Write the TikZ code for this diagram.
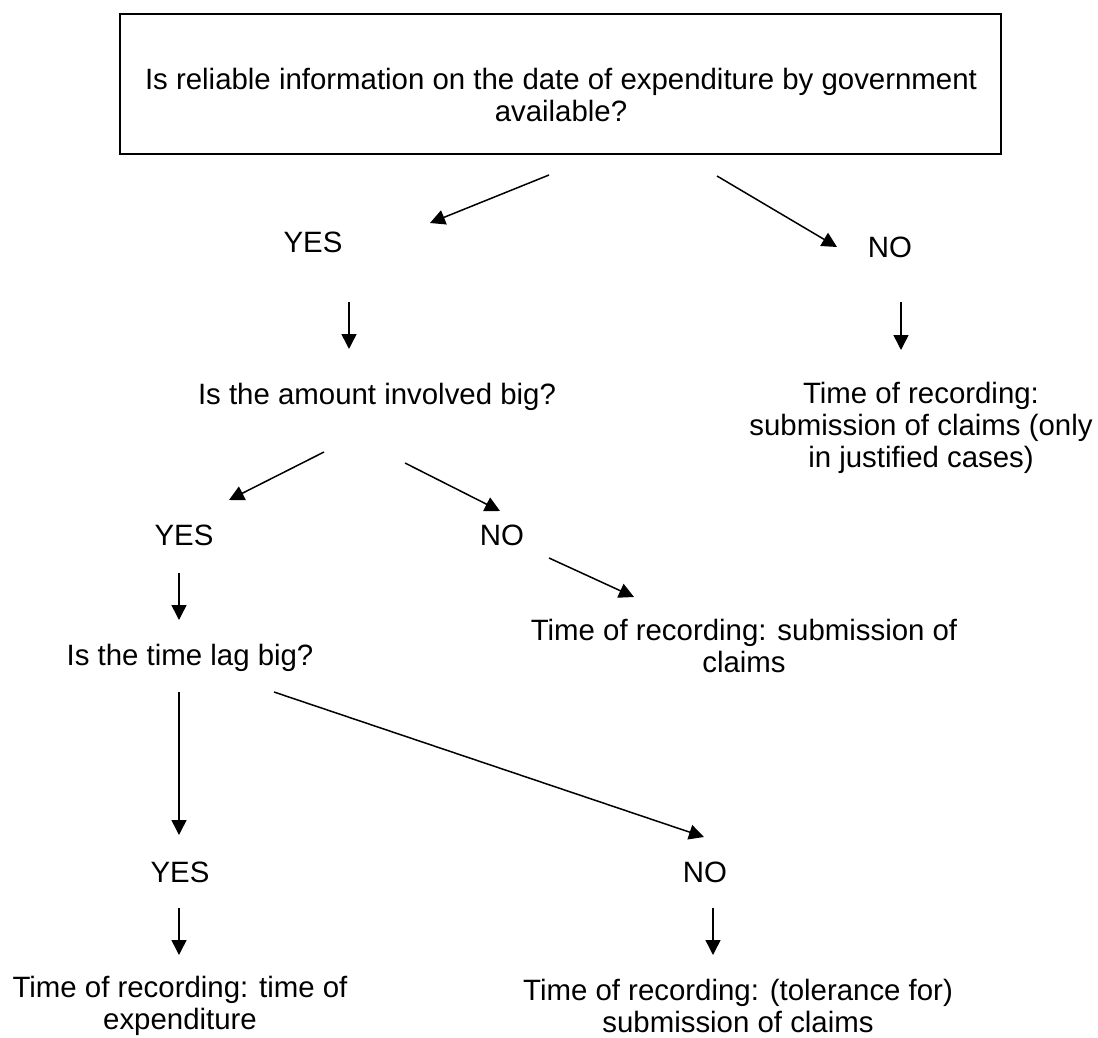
\documentclass[tikz,border=0pt]{standalone}
\usepackage{fontspec}
\setmainfont{Liberation Sans}
\usetikzlibrary{arrows.meta}

\begin{document}
\begin{tikzpicture}[x=0.5pt, y=-0.5pt]

  \tikzstyle{question} = [rectangle, minimum width=440.5pt, minimum height=70pt, draw=black, line width=1pt]
  \tikzstyle{answer} = [text centered, inner sep=0pt, font=\fontsize{14.7pt}{16pt}\selectfont]
  \tikzstyle{result} = [answer, align=center]
  \tikzstyle{arrow} = [line width=0.75pt, -{Triangle[length=7.5pt,width=7.5pt]}]

  \useasboundingbox (0,0) rectangle (1098,1038);

  \node (question) [question] at (560.5,84) {};
  \node (qtext) [result] at (561,95) {Is reliable information on the date of expenditure by government\\available?};

  \node (yes1)   [answer] at (313,242) {YES};
  \node (no1)    [answer] at (890,247) {NO};
  \node (amount) [answer] at (377,397) {Is the amount involved big?};
  \node (rec1)   [result] at (921,428) {Time of recording:\\submission of claims (only\\in justified cases)};

  \node (yes2)   [answer] at (184,535) {YES};
  \node (no2)    [answer] at (502,535) {NO};
  \node (claims) [result] at (744,646) {Time of recording: submission of\\claims};
  \node (lag)    [answer] at (190,658) {Is the time lag big?};

  \node (yes3)   [answer] at (180,872) {YES};
  \node (no3)    [answer] at (705,872) {NO};
  \node (rec3)   [result] at (180,1006) {Time of recording: time of\\expenditure};
  \node (rec4)   [result] at (738,1006) {Time of recording: (tolerance for)\\submission of claims};

  % arrow ends
  \coordinate (q-yes)      at (549,175);
  \coordinate (yes1-in)    at (430,223);
  \coordinate (q-no)       at (717,176);
  \coordinate (no1-in)     at (837,247);
  \coordinate (yes1-out)   at (349,302);
  \coordinate (amount-in)  at (349,349);
  \coordinate (no1-out)    at (901,302);
  \coordinate (rec1-in)    at (901,350);
  \coordinate (amount-yes) at (324,452);
  \coordinate (yes2-in)    at (229,500);
  \coordinate (amount-no)  at (405,463);
  \coordinate (no2-in)     at (500,511);
  \coordinate (no2-out)    at (549,558);
  \coordinate (claims-in)  at (634,597);
  \coordinate (yes2-out)   at (179,573);
  \coordinate (lag-in)     at (179,620);
  \coordinate (lag-yes)    at (179,692);
  \coordinate (yes3-in)    at (179,835);
  \coordinate (lag-no)     at (274,692);
  \coordinate (no3-in)     at (704,837);
  \coordinate (yes3-out)   at (179,908);
  \coordinate (rec3-in)    at (179,955);
  \coordinate (no3-out)    at (713,908);
  \coordinate (rec4-in)    at (713,955);

  \draw [arrow] (q-yes) -- (yes1-in);
  \draw [arrow] (q-no) -- (no1-in);
  \draw [arrow] (yes1-out) -- (amount-in);
  \draw [arrow] (no1-out) -- (rec1-in);
  \draw [arrow] (amount-yes) -- (yes2-in);
  \draw [arrow] (amount-no) -- (no2-in);
  \draw [arrow] (no2-out) -- (claims-in);
  \draw [arrow] (yes2-out) -- (lag-in);
  \draw [arrow] (lag-yes) -- (yes3-in);
  \draw [arrow] (lag-no) -- (no3-in);
  \draw [arrow] (yes3-out) -- (rec3-in);
  \draw [arrow] (no3-out) -- (rec4-in);

\end{tikzpicture}
\end{document}
